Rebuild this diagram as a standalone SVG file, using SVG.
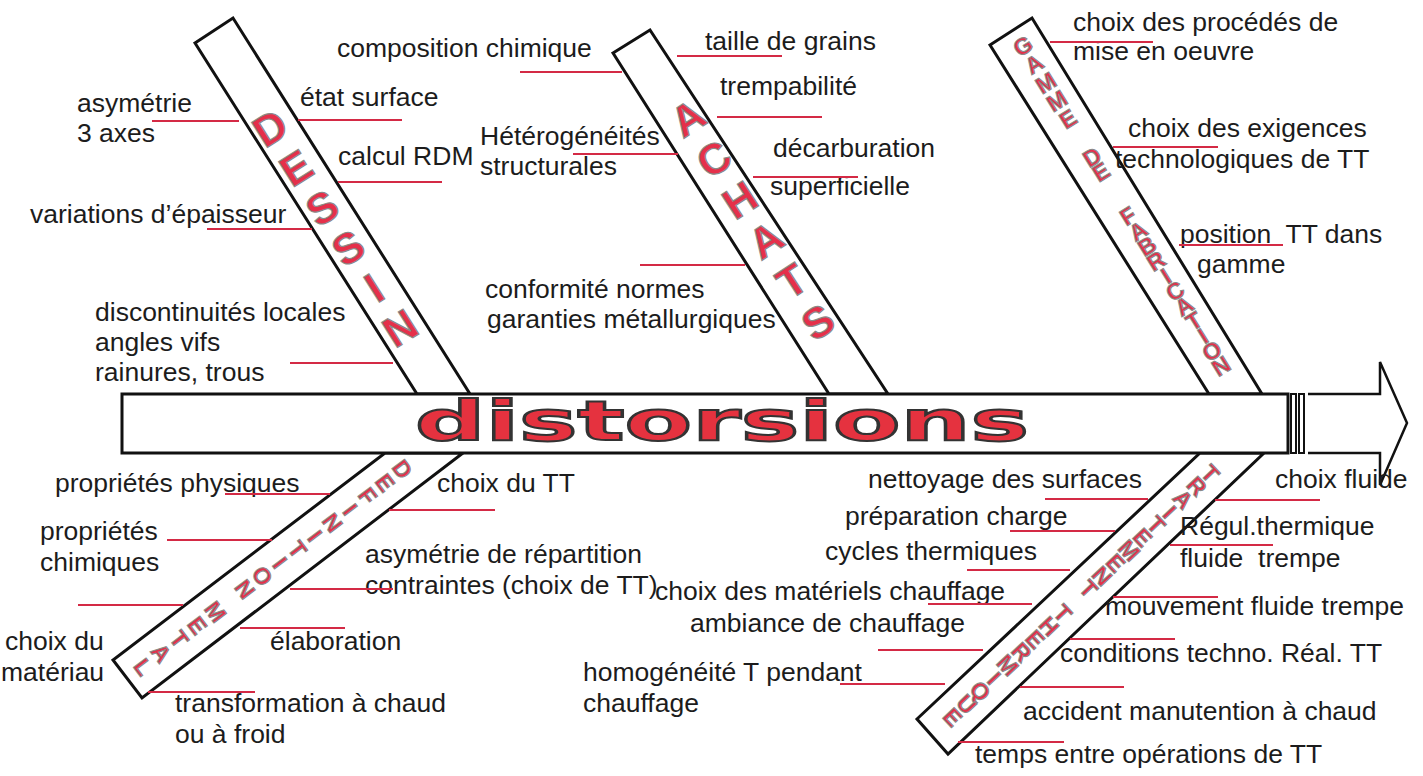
<svg xmlns="http://www.w3.org/2000/svg" width="1423" height="776" viewBox="0 0 1423 776">
<style>
.lbl{font-family:"Liberation Sans",Arial,sans-serif;font-size:26.5px;fill:#1c1c1c}
.ln{stroke:#d42a45;stroke-width:2;fill:none}
.band{fill:#fff;stroke:#111;stroke-width:3;stroke-linejoin:miter}
.big{font-family:"Liberation Sans",Arial,sans-serif;font-weight:bold;font-size:43px;fill:#e5304a;stroke:#8a8a8a;stroke-width:1.2;text-anchor:middle;dominant-baseline:central}
.sm{font-family:"Liberation Sans",Arial,sans-serif;font-weight:bold;font-size:23px;fill:#e5304a;stroke:#8a8a8a;stroke-width:1.1;text-anchor:middle;dominant-baseline:central}
.title{font-family:"DejaVu Sans",sans-serif;font-weight:bold;font-size:55px;fill:#e5323f;stroke:#333;stroke-width:2}
</style>
<rect width="1423" height="776" fill="#fff"/>

<g id="band-dessin">
<polygon class="band" points="195,43 233,18 470,394 417,394"/>
<g class="big">
<text transform="translate(270,128) rotate(-32.3)">D</text>
<text transform="translate(296,168) rotate(-32.3)">E</text>
<text transform="translate(322,208) rotate(-32.3)">S</text>
<text transform="translate(348,248) rotate(-32.3)">S</text>
<text transform="translate(374,288) rotate(-32.3)">I</text>
<text transform="translate(400,328) rotate(-32.3)">N</text>
</g>
</g>

<g id="band-achats">
<polygon class="band" points="613,53 650,30 888,394 829,394"/>
<g class="big">
<text transform="translate(688,118) rotate(-32.9)">A</text>
<text transform="translate(714,159) rotate(-32.9)">C</text>
<text transform="translate(740,200) rotate(-32.9)">H</text>
<text transform="translate(766,240) rotate(-32.9)">A</text>
<text transform="translate(792,281) rotate(-32.9)">T</text>
<text transform="translate(818,322) rotate(-32.9)">S</text>
</g>
</g>

<g id="band-gamme">
<polygon class="band" points="990,45 1032,18 1262,394 1209,394"/>
<g class="sm">
<text transform="translate(1023,46) rotate(-31.8)">G</text>
<text transform="translate(1034,64) rotate(-31.8)">A</text>
<text transform="translate(1046,83) rotate(-31.8)">M</text>
<text transform="translate(1057,101) rotate(-31.8)">M</text>
<text transform="translate(1068,119) rotate(-31.8)">E</text>
<text transform="translate(1092,157) rotate(-31.8)">D</text>
<text transform="translate(1101,172) rotate(-31.8)">E</text>
<text transform="translate(1128,216) rotate(-31.8)">F</text>
<text transform="translate(1138,231) rotate(-31.8)">A</text>
<text transform="translate(1147,246) rotate(-31.8)">B</text>
<text transform="translate(1156,261) rotate(-31.8)">R</text>
<text transform="translate(1166,276) rotate(-31.8)">I</text>
<text transform="translate(1175,291) rotate(-31.8)">C</text>
<text transform="translate(1184,306) rotate(-31.8)">A</text>
<text transform="translate(1194,321) rotate(-31.8)">T</text>
<text transform="translate(1203,336) rotate(-31.8)">I</text>
<text transform="translate(1212,351) rotate(-31.8)">O</text>
<text transform="translate(1221,366) rotate(-31.8)">N</text>
</g>
</g>

<g id="band-definition-metal">
<polygon class="band" points="385,453 463,453 142,698 113,660"/>
<g class="sm">
<text transform="translate(402.5,469.4) rotate(52.8)">D</text>
<text transform="translate(385,482.7) rotate(52.8)">E</text>
<text transform="translate(367.5,496) rotate(52.8)">F</text>
<text transform="translate(350,509.4) rotate(52.8)">I</text>
<text transform="translate(332.5,522.7) rotate(52.8)">N</text>
<text transform="translate(314.9,536) rotate(52.8)">I</text>
<text transform="translate(297.4,549.4) rotate(52.8)">T</text>
<text transform="translate(279.9,562.7) rotate(52.8)">I</text>
<text transform="translate(262.4,576) rotate(52.8)">O</text>
<text transform="translate(244.9,589.4) rotate(52.8)">N</text>
<text transform="translate(215.4,611.8) rotate(52.8)">M</text>
<text transform="translate(197.3,625.6) rotate(52.8)">E</text>
<text transform="translate(179.2,639.3) rotate(52.8)">T</text>
<text transform="translate(161.1,653.1) rotate(52.8)">A</text>
<text transform="translate(143,666.9) rotate(52.8)">L</text>
</g>
</g>

<g id="band-traitement">
<polygon class="band" points="1200,453 1264,453 948,754 917,719"/>
<g class="sm">
<text transform="translate(1210.2,473.6) rotate(46.6)">T</text>
<text transform="translate(1196.7,486.4) rotate(46.6)">R</text>
<text transform="translate(1183.1,499.2) rotate(46.6)">A</text>
<text transform="translate(1169.6,512) rotate(46.6)">I</text>
<text transform="translate(1156.1,524.8) rotate(46.6)">T</text>
<text transform="translate(1142.6,537.6) rotate(46.6)">E</text>
<text transform="translate(1129.1,550.4) rotate(46.6)">M</text>
<text transform="translate(1115.5,563.2) rotate(46.6)">E</text>
<text transform="translate(1102,576) rotate(46.6)">N</text>
<text transform="translate(1088.5,588.8) rotate(46.6)">T</text>
<text transform="translate(1062.6,613.3) rotate(46.6)">T</text>
<text transform="translate(1048.9,626.3) rotate(46.6)">H</text>
<text transform="translate(1035.1,639.3) rotate(46.6)">E</text>
<text transform="translate(1021.4,652.3) rotate(46.6)">R</text>
<text transform="translate(1007.6,665.3) rotate(46.6)">M</text>
<text transform="translate(993.9,678.3) rotate(46.6)">I</text>
<text transform="translate(980.2,691.3) rotate(46.6)">Q</text>
<text transform="translate(966.4,704.3) rotate(46.6)">U</text>
<text transform="translate(952.7,717.3) rotate(46.6)">E</text>
</g>
</g>

<g id="spine">
<rect x="122" y="394" width="1166" height="59" fill="#fff" stroke="#111" stroke-width="3"/>
<rect x="1291" y="394" width="5" height="59" fill="#fff" stroke="#111" stroke-width="2"/>
<rect x="1299" y="394" width="5" height="59" fill="#fff" stroke="#111" stroke-width="2"/>
<path d="M1308,394 H1380 V362 L1407,423 L1380,485 V453 H1308" fill="#fff" stroke="#111" stroke-width="2.5" stroke-linejoin="miter"/>
<text class="title" x="415" y="440" textLength="614" lengthAdjust="spacingAndGlyphs">distorsions</text>
</g>

<g id="causes-dessin" class="lbl">
<text x="77" y="112">asymétrie</text>
<text x="77" y="142">3 axes</text>
<text x="300" y="106">état surface</text>
<text x="338" y="165">calcul RDM</text>
<text x="30" y="223">variations d’épaisseur</text>
<text x="95" y="321">discontinuités locales</text>
<text x="95" y="351">angles vifs</text>
<text x="95" y="381">rainures, trous</text>
</g>

<g id="causes-achats" class="lbl">
<text x="337" y="57">composition chimique</text>
<text x="705" y="50">taille de grains</text>
<text x="720" y="95">trempabilité</text>
<text x="480" y="145">Hétérogénéités</text>
<text x="480" y="175">structurales</text>
<text x="773" y="157">décarburation</text>
<text x="770" y="195">superficielle</text>
<text x="485" y="298">conformité normes</text>
<text x="487" y="328">garanties métallurgiques</text>
</g>

<g id="causes-gamme" class="lbl">
<text x="1073" y="31">choix des procédés de</text>
<text x="1073" y="60">mise en oeuvre</text>
<text x="1128" y="137">choix des exigences</text>
<text x="1115" y="168">technologiques de TT</text>
<text x="1180" y="243" xml:space="preserve">position  TT dans</text>
<text x="1197" y="273">gamme</text>
</g>

<g id="causes-definition-metal" class="lbl">
<text x="55" y="492">propriétés physiques</text>
<text x="40" y="540">propriétés</text>
<text x="40" y="571">chimiques</text>
<text x="5" y="650">choix du</text>
<text x="1" y="681">matériau</text>
<text x="270" y="650">élaboration</text>
<text x="175" y="712">transformation à chaud</text>
<text x="175" y="743">ou à froid</text>
<text x="437" y="492">choix du TT</text>
<text x="365" y="563">asymétrie de répartition</text>
<text x="365" y="594">contraintes (choix de TT)</text>
</g>

<g id="causes-traitement" class="lbl">
<text x="868" y="488">nettoyage des surfaces</text>
<text x="845" y="525">préparation charge</text>
<text x="825" y="560">cycles thermiques</text>
<text x="655" y="600">choix des matériels chauffage</text>
<text x="690" y="632">ambiance de chauffage</text>
<text x="583" y="681">homogénéité T pendant</text>
<text x="583" y="712">chauffage</text>
<text x="1275" y="488">choix fluide</text>
<text x="1180" y="535">Régul.thermique</text>
<text x="1180" y="567" xml:space="preserve">fluide  trempe</text>
<text x="1105" y="615">mouvement fluide trempe</text>
<text x="1060" y="662">conditions techno. Réal. TT</text>
<text x="1023" y="720">accident manutention à chaud</text>
<text x="975" y="763">temps entre opérations de TT</text>
</g>

<g id="connectors" class="ln">
<line x1="152" y1="121" x2="239" y2="121"/>
<line x1="298" y1="120" x2="402" y2="120"/>
<line x1="338" y1="182" x2="442" y2="182"/>
<line x1="207" y1="229" x2="312" y2="229"/>
<line x1="290" y1="363" x2="393" y2="363"/>
<line x1="520" y1="72" x2="622" y2="72"/>
<line x1="677" y1="56" x2="782" y2="56"/>
<line x1="717" y1="117" x2="822" y2="117"/>
<line x1="573" y1="154" x2="678" y2="154"/>
<line x1="753" y1="177" x2="858" y2="177"/>
<line x1="640" y1="265" x2="745" y2="265"/>
<line x1="1050" y1="42" x2="1153" y2="42"/>
<line x1="1113" y1="147" x2="1218" y2="147"/>
<line x1="1179" y1="245" x2="1283" y2="245"/>
<line x1="225" y1="494" x2="330" y2="494"/>
<line x1="167" y1="540" x2="272" y2="540"/>
<line x1="78" y1="605" x2="183" y2="605"/>
<line x1="240" y1="628" x2="345" y2="628"/>
<line x1="148" y1="692" x2="255" y2="692"/>
<line x1="389" y1="510" x2="495" y2="510"/>
<line x1="290" y1="589" x2="393" y2="589"/>
<line x1="1045" y1="499" x2="1148" y2="499"/>
<line x1="1010" y1="531" x2="1115" y2="531"/>
<line x1="967" y1="570" x2="1070" y2="570"/>
<line x1="928" y1="604" x2="1032" y2="604"/>
<line x1="878" y1="650" x2="983" y2="650"/>
<line x1="840" y1="684" x2="945" y2="684"/>
<line x1="1215" y1="500" x2="1320" y2="500"/>
<line x1="1170" y1="545" x2="1273" y2="545"/>
<line x1="1113" y1="597" x2="1218" y2="597"/>
<line x1="1070" y1="639" x2="1175" y2="639"/>
<line x1="1020" y1="687" x2="1124" y2="687"/>
<line x1="958" y1="742" x2="1064" y2="742"/>
</g>
</svg>
